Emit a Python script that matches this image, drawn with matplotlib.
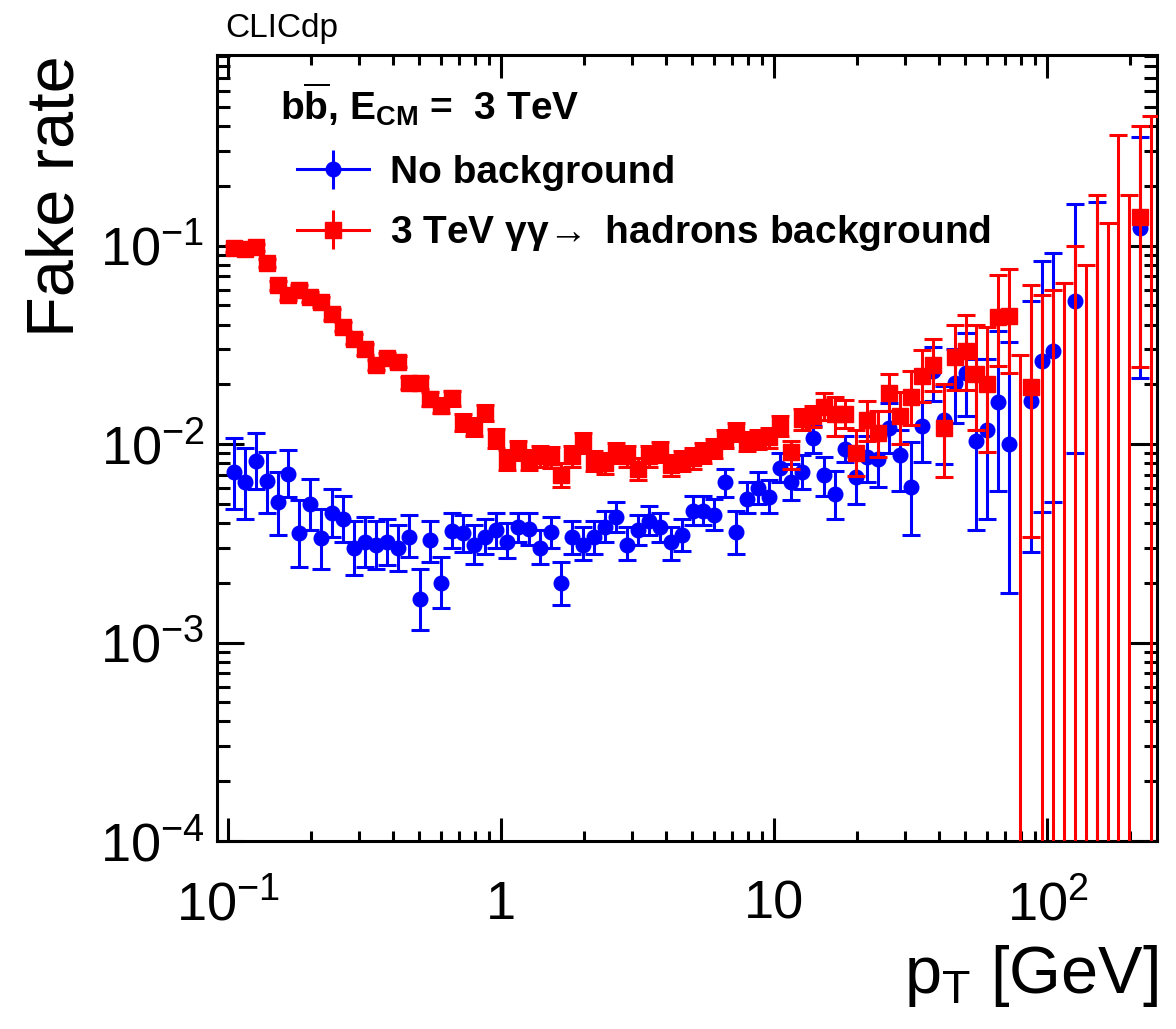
import numpy as np
import matplotlib
matplotlib.use("Agg")
import matplotlib.pyplot as plt
from matplotlib.ticker import FixedLocator, FixedFormatter, LogLocator, NullFormatter

plt.rcParams['font.family'] = ['Liberation Sans', 'DejaVu Sans']
plt.rcParams['mathtext.fontset'] = 'custom'
plt.rcParams['mathtext.rm'] = 'Liberation Sans'
plt.rcParams['mathtext.it'] = 'Liberation Sans:italic'
plt.rcParams['mathtext.bf'] = 'Liberation Sans:bold'

# 25 log bins per decade, 0.1 -> 10^2.4 GeV
pt_edges = np.logspace(-1, 2.4, 86)
pt = np.sqrt(pt_edges[:-1] * pt_edges[1:])

nan = np.nan

# fake rate without background (value, lower bound, upper bound)
nobkg = [0.00725, 0.0064, 0.0082, 0.0065, 0.0051, 0.0071, 0.00355, 0.0050, 0.00335, 0.0045,
         0.0042, 0.0030, 0.0032, 0.0031, 0.0032, 0.0030, 0.0034, 0.00166, 0.0033, 0.0020,
         0.00366, 0.00355, 0.0031, 0.0034, 0.0037, 0.0032, 0.0038, 0.00375, 0.0030, 0.0036,
         0.0020, 0.0034, 0.0031, 0.0034, 0.0038, 0.0043, 0.0031, 0.0037, 0.0041, 0.0038,
         0.0032, 0.0035, 0.0046, 0.0046, 0.0044, 0.0064, 0.0036, 0.0053, 0.0060, 0.0054,
         0.0076, 0.0064, 0.0072, 0.0107, 0.0070, 0.0056, 0.0094, 0.0068, 0.0086, 0.0084,
         0.0121, 0.0088, 0.0061, 0.0123, 0.0233, 0.0132, 0.0203, 0.0229, 0.0103, 0.0118,
         0.0163, 0.0100, nan, 0.0164, 0.0263, 0.0295, nan, 0.0524, nan, 0.0,
         nan, nan, nan, 0.123, nan]
nobkg_lo = [0.0047, 0.0042, 0.0059, 0.0045, 0.0035, 0.0054, 0.0024, 0.0037, 0.00234, 0.0034,
            0.0032, 0.0022, 0.0024, 0.00235, 0.00245, 0.0023, 0.0027, 0.00116, 0.00255, 0.0015,
            0.0030, 0.00286, 0.0025, 0.0028, 0.0030, 0.00265, 0.0032, 0.0031, 0.0025, 0.0030,
            0.00155, 0.0028, 0.0026, 0.0028, 0.0032, 0.0036, 0.0026, 0.0031, 0.0035, 0.0032,
            0.0026, 0.0029, 0.0039, 0.0039, 0.0037, 0.0054, 0.0028, 0.0045, 0.0050, 0.0045,
            0.0064, 0.0052, 0.0059, 0.0090, 0.0055, 0.0042, 0.0081, 0.0050, 0.0064, 0.0061,
            0.0090, 0.0058, 0.0035, 0.0081, 0.0164, 0.0079, 0.0127, 0.0139, 0.0037, 0.0042,
            0.0058, 0.00177, nan, 0.00286, 0.00452, 0.0051, nan, 0.0090, nan, 0.0,
            nan, nan, nan, 0.0214, nan]
nobkg_hi = [0.0107, 0.0095, 0.0113, 0.0091, 0.0072, 0.0093, 0.0052, 0.0067, 0.0047, 0.0059,
            0.0055, 0.0041, 0.0043, 0.0041, 0.0042, 0.0039, 0.0044, 0.00234, 0.0041, 0.0027,
            0.0045, 0.0044, 0.0039, 0.0042, 0.0045, 0.0040, 0.0045, 0.0045, 0.0037, 0.0043,
            0.00255, 0.0041, 0.0038, 0.0041, 0.0046, 0.0051, 0.0038, 0.0044, 0.0049, 0.0045,
            0.0038, 0.0042, 0.0055, 0.0055, 0.0053, 0.0075, 0.0046, 0.0064, 0.0072, 0.0066,
            0.0090, 0.0079, 0.0088, 0.0123, 0.0086, 0.0073, 0.0110, 0.0086, 0.0110, 0.0110,
            0.0161, 0.0117, 0.0102, 0.0163, 0.0307, 0.0197, 0.0302, 0.0362, 0.0267, 0.0267,
            0.0372, 0.0328, nan, 0.0524, 0.0838, 0.0916, nan, 0.161, nan, 0.165,
            nan, nan, nan, 0.354, nan]

# fake rate with 3 TeV gamma gamma -> hadrons overlay
withbkg = [0.097, 0.096, 0.098, 0.082, 0.063, 0.056, 0.060, 0.055, 0.052, 0.045,
           0.039, 0.034, 0.030, 0.025, 0.027, 0.026, 0.0203, 0.0203, 0.0168, 0.0156,
           0.0170, 0.0128, 0.0122, 0.0143, 0.0107, 0.0083, 0.0093, 0.0083, 0.0087, 0.0086,
           0.0070, 0.0087, 0.0101, 0.0082, 0.0080, 0.0090, 0.0087, 0.0075, 0.0087, 0.0091,
           0.0078, 0.0082, 0.0085, 0.0090, 0.0095, 0.0106, 0.0115, 0.0103, 0.0105, 0.0108,
           0.0123, 0.0091, 0.0134, 0.0138, 0.0154, 0.0142, 0.0142, 0.0090, 0.0132, 0.0114,
           0.0180, 0.0138, 0.0172, 0.0220, 0.0249, 0.0120, 0.0275, 0.0295, 0.0226, 0.0200,
           0.0435, 0.0440, 0.0, 0.0194, 0.0, 0.0, 0.0, 0.0, 0.0, 0.0,
           0.0, 0.0, 0.0, 0.140, 0.0]
withbkg_lo = [0.093, 0.092, 0.094, 0.078, 0.060, 0.053, 0.057, 0.052, 0.049, 0.042,
              0.037, 0.032, 0.028, 0.0235, 0.0254, 0.0244, 0.0189, 0.0189, 0.0155, 0.0143,
              0.0156, 0.0116, 0.0110, 0.0130, 0.0096, 0.0074, 0.0083, 0.0074, 0.0077, 0.0076,
              0.0061, 0.0077, 0.0090, 0.0073, 0.0071, 0.0080, 0.0077, 0.0066, 0.0077, 0.0081,
              0.0069, 0.0073, 0.0075, 0.0080, 0.0085, 0.0095, 0.0103, 0.0092, 0.0094, 0.0096,
              0.0110, 0.0075, 0.0118, 0.0122, 0.0132, 0.0110, 0.0120, 0.0069, 0.0103, 0.0086,
              0.0146, 0.0100, 0.0125, 0.0163, 0.0184, 0.0068, 0.0187, 0.0187, 0.0118, 0.0091,
              0.0246, 0.0229, 0.0, 0.0034, 0.0, 0.0, 0.0, 0.0, 0.0, 0.0,
              0.0, 0.0, 0.0, 0.0243, 0.0]
withbkg_hi = [0.101, 0.100, 0.102, 0.086, 0.066, 0.059, 0.063, 0.058, 0.055, 0.048,
              0.041, 0.036, 0.032, 0.0266, 0.0287, 0.0277, 0.0218, 0.0218, 0.0182, 0.0170,
              0.0185, 0.0141, 0.0135, 0.0157, 0.0119, 0.0093, 0.0104, 0.0093, 0.0098, 0.0097,
              0.0080, 0.0098, 0.0113, 0.0092, 0.0090, 0.0101, 0.0098, 0.0085, 0.0098, 0.0102,
              0.0088, 0.0092, 0.0096, 0.0101, 0.0106, 0.0118, 0.0128, 0.0115, 0.0117, 0.0121,
              0.0138, 0.0103, 0.0150, 0.0156, 0.0180, 0.0172, 0.0167, 0.0117, 0.0164, 0.0147,
              0.0226, 0.0182, 0.0233, 0.0299, 0.0337, 0.0200, 0.0398, 0.0447, 0.0398, 0.0389,
              0.0710, 0.0763, 0.028, 0.0629, 0.056, 0.060, 0.065, 0.10, 0.080, 0.18,
              0.13, 0.36, 0.18, 0.40, 0.45]

x_ticks = [0.1, 1, 10, 100]
x_ticklabels = [r'$10^{-1}$', '1', '10', r'$10^{2}$']
y_ticks = [1e-4, 1e-3, 1e-2, 1e-1]
y_ticklabels = [r'$10^{-4}$', r'$10^{-3}$', r'$10^{-2}$', r'$10^{-1}$']


def asym_err(val, lo, hi):
    val, lo, hi = np.asarray(val), np.asarray(lo), np.asarray(hi)
    return np.array([val - lo, hi - val])


fig = plt.figure(figsize=(11.76, 10.29), dpi=100)
ax = fig.add_axes([0.1845, 0.1827, 0.7993, 0.7638])
ax.set_xscale('log')
ax.set_yscale('log')
ax.set_xlim(0.0908, 251.8)
ax.set_ylim(1e-4, 0.911)

blue = '#0000ff'
red = '#ff0000'
ax.errorbar(pt, nobkg, yerr=asym_err(nobkg, nobkg_lo, nobkg_hi), fmt='o', color=blue,
            ms=10.5, elinewidth=2.2, capsize=6.2, capthick=2.2, zorder=3)
ax.errorbar(pt, withbkg, yerr=asym_err(withbkg, withbkg_lo, withbkg_hi), fmt='s', color=red,
            ms=11, elinewidth=2.2, capsize=6.2, capthick=2.2, zorder=4)

# axis styling, ROOT-like ticks on all four sides
for sp in ax.spines.values():
    sp.set_linewidth(2.2)
ax.xaxis.set_major_locator(FixedLocator(x_ticks))
ax.xaxis.set_major_formatter(FixedFormatter(x_ticklabels))
ax.xaxis.set_minor_locator(LogLocator(base=10, subs=np.arange(2, 10)))
ax.xaxis.set_minor_formatter(NullFormatter())
ax.yaxis.set_major_locator(FixedLocator(y_ticks))
ax.yaxis.set_major_formatter(FixedFormatter(y_ticklabels))
ax.yaxis.set_minor_locator(LogLocator(base=10, subs=np.arange(2, 10)))
ax.yaxis.set_minor_formatter(NullFormatter())
ax.tick_params(which='both', direction='in', top=True, right=True, width=2.2, labelsize=39)
ax.tick_params(axis='x', which='major', length=16.5, pad=28)
ax.tick_params(axis='x', which='minor', length=7.2)
ax.tick_params(axis='y', which='major', length=19.5, pad=9)
ax.tick_params(axis='y', which='minor', length=9.5)

# axis titles
fig.text(56 / 1176, 1 - 55 / 1029, 'Fake rate', rotation=90, ha='center', va='top', fontsize=48)
fig.text(1158 / 1176, 1 - 993 / 1029, r'p$_{\mathregular{T}}$ [GeV]', ha='right', va='baseline',
         fontsize=48)
fig.text(225 / 1176, 1 - 37 / 1029, 'CLICdp', ha='left', va='baseline', fontsize=24)

# header and legend
ax.text(0.067, 0.918, r'$\mathbf{b\overline{b}}$, E$_{\mathbf{CM}}$ =  3 TeV', transform=ax.transAxes,
        ha='left', va='baseline', fontsize=28, fontweight='bold')
h_blue = ax.errorbar([], [], yerr=[], fmt='-o', color=blue, ms=10.5, lw=2.2, capsize=0)
h_red = ax.errorbar([], [], yerr=[], fmt='-s', color=red, ms=11, lw=2.2, capsize=0)
leg = ax.legend([h_blue, h_red],
                ['No background', r'3 TeV $\mathregular{\gamma\gamma\!\rightarrow}$ hadrons background'],
                loc='upper left', bbox_to_anchor=(0.085, 0.873), frameon=False,
                borderpad=0, borderaxespad=0, handlelength=1.85, handletextpad=0.55,
                labelspacing=0.58, prop={'size': 28, 'weight': 'bold'})

fig.savefig('out.png', dpi=100)
